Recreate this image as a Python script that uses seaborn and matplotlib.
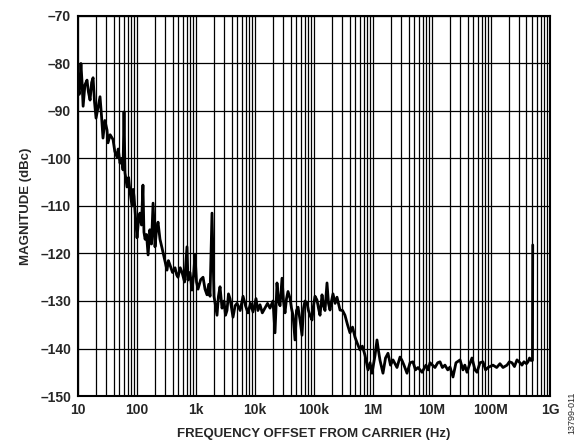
import numpy as np
import pandas as pd
import seaborn as sns
import matplotlib
matplotlib.use("Agg")
import matplotlib.pyplot as plt
from matplotlib.ticker import LogLocator, FixedLocator, NullFormatter

freq_hz = [
    10.0, 10.5, 11.2, 11.7, 12.2, 13.1, 14.2, 15.0, 16.0, 17.0, 18.0, 19.0, 20.2, 22.0,
    23.6, 25.0, 26.5, 28.5, 31.0, 32.2, 35.0, 39.2, 42.0, 45.8, 48.0,
    51.5, 55.0, 57.9, 60.2, 62.6, 65.0, 67.7, 72.0, 76.1, 82.3, 86.0, 89, 94, 100, 106, 112,
    119, 126, 131, 137, 145, 154, 165, 176, 187, 194, 202, 214,
    227, 245, 265, 290, 322, 340, 362, 400, 441, 470, 495, 540, 580, 640, 703, 731, 790, 855, 910, 961,
    1020, 1081, 1200, 1315, 1420, 1536, 1640, 1727, 1866, 2018, 2140, 2270, 2400, 2553, 2760, 2985,
    3160, 3351, 3550, 3770, 4000, 4238, 4600, 4955, 5600, 6266, 6900, 7600, 8400, 9250, 10400,
    11200, 12160, 13300, 14760, 16300, 17950, 20180, 21810, 23590, 25000, 26540, 28710, 30400,
    32230, 34200, 36250, 39190, 41500, 44070, 47660, 50500, 53560, 58000, 62650, 66500, 70330,
    76060, 80500, 85530, 92500, 98000, 104000, 112400, 119000, 126400, 136700, 145000, 153600,
    166100, 176000, 186700, 198000, 209900, 228000, 245400, 260000, 276000, 305000, 335100,
    370000, 407400, 450000, 495300, 545000, 602000, 660000, 731600, 822600, 890000, 961700,
    1.081e6, 1.169e6, 1.24e6, 1.315e6, 1.477e6, 1.63e6, 1.795e6, 1.98e6, 2.183e6, 2.552e6,
    2.869e6, 3.1e6, 3.35e6, 3.77e6, 4.25e6, 4.76e6, 5.25e6, 5.79e6, 6.78e6, 7.91e6,
    8.6e6, 9.25e6, 1.124e7, 1.25e7, 1.367e7, 1.5e7, 1.66e7, 1.85e7, 2.02e7, 2.27e7, 2.55e7,
    2.99e7, 3.35e7, 3.6e7, 3.92e7, 4.3e7, 4.76e7, 5.36e7, 5.79e7, 6.51e7, 7.32e7, 8.1e7,
    8.9e7, 1.08e8, 1.25e8, 1.42e8, 1.6e8, 1.87e8, 2.05e8, 2.27e8, 2.5e8, 2.76e8, 3.10e8,
    3.35e8, 3.62e8, 4.0e8, 4.24e8, 4.5e8, 4.76e8, 5.05e8, 5.1e8,
]
magnitude_dbc = [
    -85.2, -86.5, -80.0, -84.0, -89.0, -84.5, -83.5, -86.0, -87.7, -84.0, -83.0, -88.0, -91.5, -89.0,
    -87.0, -91.0, -95.7, -92.0, -94.0, -96.7, -95.0, -96.0, -98.5, -99.7, -98.0,
    -101.0, -100.0, -102.4, -90.2, -103.0, -104.5, -106.0, -104.0, -107.0, -110.0, -106.5, -108.0, -112.0, -116.7, -113.0, -111.5,
    -114.0, -105.6, -115.5, -117.0, -116.0, -120.3, -115.0, -118.0, -109.4, -114.0, -118.6, -115.0,
    -113.4, -117.0, -118.8, -121.0, -123.5, -121.5, -122.4, -124.0, -123.0, -124.5, -125.0, -123.0, -124.0, -126.0, -118.6, -125.6, -124.0, -127.7, -124.5, -120.3,
    -126.0, -127.5, -125.5, -125.0, -127.5, -128.7, -126.5, -129.0, -111.5, -129.0, -131.0, -133.0, -129.0, -127.0, -131.5, -130.0,
    -133.0, -132.0, -128.5, -129.5, -131.5, -133.4, -131.0, -130.5, -132.0, -129.0, -131.0, -132.5, -130.5, -132.3, -129.5,
    -132.0, -130.8, -132.5, -131.5, -130.5, -131.5, -130.0, -136.7, -126.2, -130.0, -131.0, -125.2, -130.0,
    -132.5, -129.5, -128.0, -129.4, -131.5, -133.0, -138.2, -132.0, -131.3, -134.0, -137.2, -131.5, -130.0,
    -130.4, -132.0, -133.0, -134.0, -131.0, -129.0, -129.8, -131.5, -133.0, -128.7, -131.0, -132.0,
    -126.2, -130.5, -131.9, -130.0, -128.5, -130.5, -129.2, -130.5, -131.9, -132.0, -133.0,
    -135.0, -136.7, -135.5, -137.6, -139.0, -140.3, -139.5, -141.4, -144.5, -143.0, -145.2,
    -141.5, -138.2, -140.5, -142.5, -145.2, -142.0, -141.0, -143.5, -142.4, -144.0,
    -141.8, -142.5, -143.5, -145.2, -143.0, -142.8, -144.5, -144.0, -145.0, -143.5,
    -144.5, -143.0, -144.0, -143.0, -142.8, -144.0, -143.5, -144.5, -143.9, -146.0, -143.0,
    -142.4, -144.5, -143.5, -145.0, -143.5, -142.0, -144.5, -145.0, -143.0, -142.8, -144.5,
    -144.0, -143.5, -144.0, -143.2, -144.0, -143.5, -142.8, -143.0, -143.8, -142.4, -143.0,
    -143.5, -142.8, -143.2, -142.8, -142.0, -142.5, -142.5, -118.2,
]

x_ticks = [1e1, 1e2, 1e3, 1e4, 1e5, 1e6, 1e7, 1e8, 1e9]
x_tick_labels = ["10", "100", "1k", "10k", "100k", "1M", "10M", "100M", "1G"]
y_ticks = [-150, -140, -130, -120, -110, -100, -90, -80, -70]
y_tick_labels = ["\u2013150", "\u2013140", "\u2013130", "\u2013120", "\u2013110",
                 "\u2013100", "\u201390", "\u201380", "\u201370"]

sns.set_theme(style="white")
plt.rcParams["font.family"] = ["Liberation Sans", "DejaVu Sans"]

df = pd.DataFrame({"freq": freq_hz, "mag": magnitude_dbc})

fig = plt.figure(figsize=(5.81, 4.44), dpi=100)
ax = fig.add_axes([0.1343, 0.1081, 0.8123, 0.8559])

sns.lineplot(data=df, x="freq", y="mag", ax=ax, color="black", linewidth=2.0,
             sort=False, estimator=None, zorder=3)
ax.set_xscale("log")
ax.set_xlim(1e1, 1e9)
ax.set_ylim(-150, -70)

ax.xaxis.set_major_locator(FixedLocator(x_ticks))
ax.set_xticklabels(x_tick_labels)
ax.xaxis.set_minor_locator(LogLocator(base=10, subs=np.arange(2, 10), numticks=100))
ax.xaxis.set_minor_formatter(NullFormatter())
ax.set_yticks(y_ticks)
ax.set_yticklabels(y_tick_labels)

ax.grid(which="major", axis="both", color="black", linewidth=0.9)
ax.grid(which="minor", axis="x", color="black", linewidth=0.9)
ax.tick_params(axis="both", which="both", length=0, labelsize=10, pad=5)
for lbl in ax.get_xticklabels() + ax.get_yticklabels():
    lbl.set_fontweight("bold")

for s in ax.spines.values():
    s.set_color("black")
    s.set_linewidth(1.5)
    s.set_visible(True)

ax.set_xlabel("FREQUENCY OFFSET FROM CARRIER (Hz)", fontsize=9.5, fontweight="bold", labelpad=8)
ax.set_ylabel("MAGNITUDE (dBc)", fontsize=9.5, fontweight="bold", labelpad=6)

fig.text(0.985, 0.07, "13799-011", rotation=90, fontsize=6.5, ha="center", va="center")

fig.savefig("out.png", dpi=100)
